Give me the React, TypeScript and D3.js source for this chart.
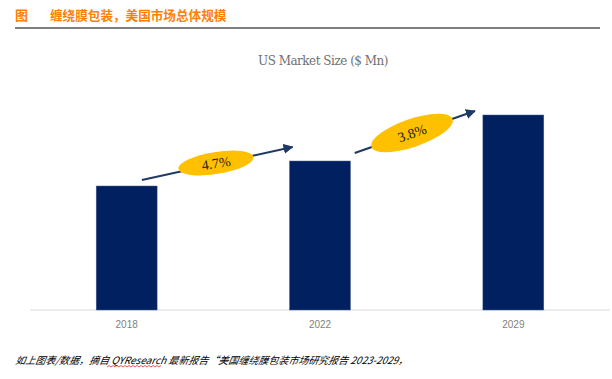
import React from "react";
import * as d3 from "d3";

const years = ["2018", "2022", "2029"];
const values = [1240, 1490, 1950];
const growth = [
  { label: "4.7%", from: 0, to: 1 },
  { label: "3.8%", from: 1, to: 2 },
];
const headerTitle = "缠绕膜包装，美国市场总体规模";
const chartTitle = "US Market Size ($ Mn)";
const footer = "如上图表/数据，摘自 QYResearch 最新报告“美国缠绕膜包装市场研究报告 2023-2029，";

const W = 612;
const H = 379;

export default function App() {
  const x = d3.scaleBand<string>().domain(years).range([30, 610]).paddingInner(0.685).paddingOuter(0.3425);
  const y = d3.scaleLinear().domain([0, 1950]).range([310, 115]);
  const bw = x.bandwidth();

  const arrowOffsets = [
    { sx: 0.75, sy: -6, ex: 3, ey: -14 },
    { sx: 1.07, sy: -8, ex: -8, ey: -4 },
  ];
  const arrows = growth.map((g, i) => {
    const o = arrowOffsets[i];
    const x0 = (x(years[g.from]) as number) + bw * o.sx;
    const y0 = y(values[g.from]) + o.sy;
    const x1 = (x(years[g.to]) as number) + o.ex;
    const y1 = y(values[g.to]) + o.ey;
    return { ...g, x0, x1, y0, y1 };
  });
  const ellipses = [
    { cx: 216, cy: 163, rx: 38, ry: 11, rot: -9 },
    { cx: 412, cy: 133, rx: 43, ry: 14, rot: -19 },
  ];

  const wave = d3.range(0, 28).map((k) => [107 + k * 2, 367 + (k % 2 === 0 ? 0 : -1.5)] as [number, number]);

  return (
    <svg width={W} height={H} style={{ position: "absolute", left: 0, top: 0, background: "#fff" }}>
      <defs>
        <marker id="ah" viewBox="0 0 10 10" refX="9" refY="5" markerWidth="5" markerHeight="5" orient="auto">
          <path d="M0,0 L10,5 L0,10 z" fill="#1F3864" />
        </marker>
      </defs>
      <text x={15} y={20} fontFamily="'Noto Sans CJK SC'" fontWeight="bold" fontSize={13} fill="#FF8000">图</text>
      <text x={50} y={20} fontFamily="'Noto Sans CJK SC'" fontWeight="bold" fontSize={12.6} fill="#FF8000">{headerTitle}</text>
      <line x1={15} x2={600} y1={28} y2={28} stroke="#000" strokeWidth={1.2} />

      <text x={323} y={65} textAnchor="middle" fontFamily="'DejaVu Serif'" fontSize={12} fill="#707070" letterSpacing={-0.5}>{chartTitle}</text>

      <line x1={30} x2={610} y1={310} y2={310} stroke="#D9D9D9" strokeWidth={1} />
      {years.map((yr, i) => (
        <rect key={yr} x={x(yr)} y={y(values[i])} width={bw} height={310 - y(values[i])} fill="#002060" stroke="#4a5f8f" strokeWidth={0.5} />
      ))}
      {years.map((yr) => (
        <text key={yr} x={(x(yr) as number) + bw / 2} y={328} textAnchor="middle" fontFamily="'Liberation Sans'" fontSize={10} fill="#7f7f7f">{yr}</text>
      ))}

      {arrows.map((a) => (
        <line key={a.label} x1={a.x0} y1={a.y0} x2={a.x1} y2={a.y1} stroke="#1F3864" strokeWidth={2} markerEnd="url(#ah)" />
      ))}
      {ellipses.map((e, i) => (
        <g key={i} transform={`translate(${e.cx},${e.cy}) rotate(${e.rot})`}>
          <ellipse rx={e.rx} ry={e.ry} fill="#FFC000" />
          <text y={5} textAnchor="middle" fontFamily="'Liberation Serif'" fontSize={14} fill="#222">{growth[i].label}</text>
        </g>
      ))}

      <text x={15} y={364} fontFamily="'Noto Sans CJK SC'" fontStyle="italic" fontSize={10} fill="#000" style={{ transform: "skewX(-10deg)", transformOrigin: "15px 364px" }}>{footer}</text>
      <path d={d3.line()(wave) as string} fill="none" stroke="#e03030" strokeWidth={0.8} />
    </svg>
  );
}
